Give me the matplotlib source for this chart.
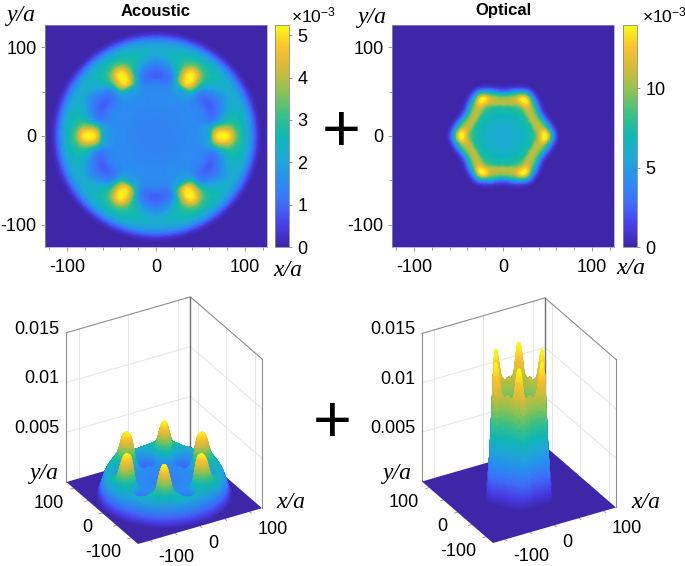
#!/usr/bin/env python3
import matplotlib

matplotlib.use('Agg')  # necessary when plotting without $DISPLAY
import numpy as np
import matplotlib.pyplot as plt
from matplotlib.colors import LinearSegmentedColormap
from matplotlib.tri import Triangulation, UniformTriRefiner
from mpl_toolkits.mplot3d import proj3d
from mpl_toolkits.mplot3d.art3d import Poly3DCollection

W, H = 685, 566

# values, in units of 1e-3, along rays from the centre.
# the pattern repeats every 60 degrees and is mirrored, so rays 0-30 deg are enough
acoustic_r = [0, 5, 10, 15, 20, 25, 30, 35, 40, 45, 50, 55, 60, 65, 70, 75, 80, 85, 90, 95, 100, 105, 110, 115, 120]
acoustic_00 = [1.4, 1.4, 1.4, 1.4, 1.4, 1.45, 1.45, 1.5, 1.5, 1.55, 1.7, 1.85, 2.4, 4.3, 5.1, 5.24, 5.15, 4.6, 3.6, 2.9, 2.45, 1.95, 1.15, 0.35, 0.0]
acoustic_05 = [1.4, 1.4, 1.4, 1.4, 1.4, 1.45, 1.45, 1.5, 1.5, 1.55, 1.7, 1.85, 2.25, 3.7, 4.5, 4.7, 4.5, 4.0, 3.2, 2.8, 2.45, 1.95, 1.15, 0.35, 0.0]
acoustic_10 = [1.4, 1.4, 1.4, 1.4, 1.4, 1.45, 1.45, 1.5, 1.5, 1.55, 1.65, 1.8, 2.0, 2.5, 2.9, 3.1, 3.1, 3.0, 2.85, 2.65, 2.4, 1.95, 1.15, 0.35, 0.0]
acoustic_15 = [1.4, 1.4, 1.4, 1.4, 1.4, 1.45, 1.45, 1.5, 1.5, 1.5, 1.55, 1.55, 1.5, 1.4, 1.5, 1.85, 2.3, 2.55, 2.65, 2.55, 2.3, 1.9, 1.15, 0.35, 0.0]
acoustic_20 = [1.4, 1.4, 1.4, 1.4, 1.4, 1.45, 1.45, 1.5, 1.5, 1.5, 1.5, 1.45, 1.3, 1.1, 1.1, 1.35, 1.7, 2.1, 2.35, 2.4, 2.25, 1.85, 1.1, 0.35, 0.0]
acoustic_25 = [1.4, 1.4, 1.4, 1.4, 1.4, 1.45, 1.45, 1.5, 1.5, 1.5, 1.5, 1.45, 1.25, 1.0, 0.95, 1.15, 1.45, 1.8, 2.1, 2.3, 2.2, 1.8, 1.1, 0.35, 0.0]
acoustic_30 = [1.4, 1.4, 1.4, 1.4, 1.4, 1.45, 1.45, 1.5, 1.5, 1.5, 1.5, 1.45, 1.3, 0.95, 0.9, 1.05, 1.3, 1.6, 1.95, 2.2, 2.15, 1.8, 1.1, 0.35, 0.0]

optical_r = [0, 6, 12, 18, 24, 30, 33, 36, 39, 42, 45, 48, 51, 54, 57, 60, 63, 66, 69]
optical_00 = [5.8, 5.85, 6.0, 6.3, 6.7, 7.3, 7.8, 8.5, 10.2, 12.4, 13.8, 14.0, 12.2, 8.2, 4.6, 1.9, 0.5, 0.0, 0.0]
optical_05 = [5.8, 5.85, 6.0, 6.3, 6.7, 7.3, 7.7, 8.7, 10.4, 12.2, 13.3, 13.3, 10.8, 7.2, 3.7, 1.4, 0.3, 0.0, 0.0]
optical_10 = [5.8, 5.85, 6.0, 6.3, 6.7, 7.3, 7.6, 9.2, 10.6, 11.5, 11.8, 10.6, 7.9, 4.9, 2.3, 0.7, 0.1, 0.0, 0.0]
optical_15 = [5.8, 5.85, 6.0, 6.3, 6.7, 7.2, 7.6, 9.8, 10.7, 11.0, 10.2, 8.6, 6.0, 3.4, 1.3, 0.3, 0.0, 0.0, 0.0]
optical_20 = [5.8, 5.85, 6.0, 6.3, 6.7, 7.2, 7.7, 10.0, 10.6, 10.7, 9.5, 7.5, 4.5, 2.0, 0.6, 0.1, 0.0, 0.0, 0.0]
optical_25 = [5.8, 5.85, 6.0, 6.3, 6.7, 7.3, 8.0, 10.3, 10.8, 10.4, 8.7, 6.2, 3.2, 1.2, 0.3, 0.0, 0.0, 0.0, 0.0]
optical_30 = [5.8, 5.85, 6.0, 6.3, 6.8, 7.3, 8.5, 10.5, 10.9, 10.2, 8.5, 5.5, 2.8, 1.0, 0.2, 0.0, 0.0, 0.0, 0.0]

acoustic_max = 5.24
optical_max = 14.0
acoustic_cbar_ticks = [0, 1, 2, 3, 4, 5]
optical_cbar_ticks = [0, 5, 10]
map_ticks = [-100, 0, 100]
map_minor_x = [-120, -80, -60, -40, -20, 20, 40, 60, 80, 120]
map_minor_y = [-50, 50]
z_ticks = [0.005, 0.01]
z_labels = ['0.005', '0.01', '0.015']
extent = 125
z_top = 0.015

parula = LinearSegmentedColormap.from_list('parula', [
    '#3e26a8', '#4840ea', '#3f6ffb', '#2a8ff0', '#1fa8d8', '#0fb9b5',
    '#3dc184', '#8bc356', '#d1bb3a', '#fdc02f', '#f9fb15'], N=256)
bg = parula(0.0)
edge = '#8c8c8c'
grid = '#e6e6e6'
sans = 'Liberation Sans'
serif = 'Liberation Serif'
tick_size = 13

plt.rcParams['font.family'] = sans
plt.rcParams['mathtext.fontset'] = 'custom'
plt.rcParams['mathtext.rm'] = sans
plt.rcParams['mathtext.it'] = sans + ':italic'

fig = plt.figure(figsize=(W / 100, H / 100), dpi=100)


def px_axes(left, top, right, bottom, **kw):
    return fig.add_axes([left / W, 1 - bottom / H, (right - left) / W, (bottom - top) / H], **kw)


def px_text(x, y, s, **kw):
    kw.setdefault('ha', 'center')
    kw.setdefault('va', 'center')
    return fig.text(x / W, 1 - y / H, s, **kw)


def polar_field(radii, rays):
    # unfold the 0-30 deg rays over the circle and let the library smooth the mesh for drawing
    rays = np.array(rays) * 1e-3
    radii = np.array(radii, dtype=float)
    steps = np.arange(72)
    folded = np.minimum(steps % 12, 12 - steps % 12)
    theta = np.deg2rad(steps * 5.0)
    x = np.concatenate([[0.0], np.outer(np.cos(theta), radii[1:]).ravel()])
    y = np.concatenate([[0.0], np.outer(np.sin(theta), radii[1:]).ravel()])
    z = np.concatenate([[rays[0, 0]], rays[folded][:, 1:].ravel()])

    n_ring = len(radii) - 1
    triangles = []
    for i in range(72):
        nxt = (i + 1) % 72
        triangles.append([0, 1 + i * n_ring, 1 + nxt * n_ring])
        for j in range(n_ring - 1):
            a = 1 + i * n_ring + j
            b = 1 + nxt * n_ring + j
            triangles.append([a, a + 1, b + 1])
            triangles.append([a, b + 1, b])
    tri = Triangulation(x, y, np.array(triangles))
    fine_tri, fine_z = UniformTriRefiner(tri).refine_field(z, subdiv=2)
    return fine_tri, np.clip(fine_z, 0, None)


def draw_map(box, cbar_box, tri, z, vmax, cbar_ticks, title):
    ax = px_axes(*box)
    ax.set_facecolor(bg)
    mesh = ax.tripcolor(tri, z, shading='gouraud', cmap=parula, vmin=0, vmax=vmax * 1e-3)
    ax.set_xlim(-extent, extent)
    ax.set_ylim(-extent, extent)
    ax.set_xticks(map_ticks)
    ax.set_yticks(map_ticks)
    ax.set_xticks(map_minor_x, minor=True)
    ax.set_yticks(map_minor_y, minor=True)
    ax.tick_params(which='major', direction='out', length=3, width=0.6, color=edge, labelsize=tick_size, pad=6)
    ax.tick_params(which='minor', direction='out', length=2, width=0.6, color=edge)
    ax.tick_params(axis='y', which='major', pad=3)
    ax.set_xticklabels(['-100', '0', '100'])
    ax.set_yticklabels(['-100', '0', '100'])
    for side in ax.spines.values():
        side.set_color('#9a94c8')
        side.set_linewidth(0.5)

    cax = px_axes(*cbar_box)
    cbar = fig.colorbar(mesh, cax=cax)
    cbar.set_ticks([t * 1e-3 for t in cbar_ticks])
    cbar.set_ticklabels([str(t) for t in cbar_ticks])
    cbar.ax.tick_params(length=2, width=0.6, color=edge, labelsize=tick_size, pad=4)
    cbar.outline.set_edgecolor(edge)
    cbar.outline.set_linewidth(0.6)

    px_text((box[0] + box[2]) / 2, 11, title, fontsize=12, fontweight='bold')


def to_display(ax, x, y, z):
    ax.apply_aspect()
    px, py, _ = proj3d.proj_transform(x, y, z, ax.get_proj())
    return ax.transData.transform((px, py))


def place_3d(ax, bottom_px, right_px):
    # move the 3d axes so the floor corners land on the wanted pixels
    size = 400.0
    ax.set_position([0.1, 0.1, size / W, size / H])
    a = to_display(ax, -extent, -extent, 0)
    b = to_display(ax, extent, -extent, 0)
    size *= (right_px[0] - bottom_px[0]) / (b[0] - a[0])
    ax.set_position([0.1, 0.1, size / W, size / H])
    a = to_display(ax, -extent, -extent, 0)
    left = 0.1 * W + bottom_px[0] - a[0]
    low = 0.1 * H + (H - bottom_px[1]) - a[1]
    ax.set_position([left / W, low / H, size / W, size / H])


def label_3d(ax, x, y, z, s, **kw):
    dx, dy = to_display(ax, x, y, z)
    fig.text(dx / W, dy / H, s, fontsize=tick_size, va='center', **kw)


def draw_surface(bottom_px, right_px, tri, z, vmax):
    ax = fig.add_axes([0.1, 0.1, 0.5, 0.5], projection='3d', computed_zorder=False, proj_type='ortho')
    ax.set_box_aspect((1, 1, 1.204))
    ax.view_init(elev=30, azim=-120)
    ax.set_xlim(-extent, extent, view_margin=0)
    ax.set_ylim(-extent, extent, view_margin=0)
    ax.set_zlim(0, z_top, view_margin=0)
    ax.set_axis_off()
    ax.patch.set_alpha(0)

    # walls
    for t in map_ticks:
        ax.plot([t, t], [extent, extent], [0, z_top], color=grid, lw=0.7, zorder=1)
        ax.plot([extent, extent], [t, t], [0, z_top], color=grid, lw=0.7, zorder=1)
    for t in z_ticks:
        ax.plot([-extent, extent, extent], [extent, extent, -extent], [t, t, t], color=grid, lw=0.7, zorder=1)
    ax.plot([-extent, extent, extent], [extent, extent, -extent], [z_top] * 3, color=edge, lw=0.8, zorder=1)
    ax.plot([-extent, -extent], [extent, extent], [0, z_top], color=edge, lw=0.8, zorder=1)
    ax.plot([extent, extent], [-extent, -extent], [0, z_top], color=edge, lw=0.8, zorder=1)
    ax.plot([extent, extent], [extent, extent], [0, z_top], color='#707070', lw=1.0, zorder=1)

    # floor and surface
    fx, fy = np.meshgrid([-extent, extent], [-extent, extent])
    ax.plot_surface(fx, fy, np.zeros_like(fx, dtype=float), color=bg, shade=False, linewidth=0, zorder=2)
    t = tri.get_masked_triangles()
    verts = np.stack([tri.x[t], tri.y[t], z[t]], axis=-1)
    colors = parula(z[t].mean(axis=1) / (vmax * 1e-3))
    surf = Poly3DCollection(verts, facecolors=colors, edgecolors=colors, linewidths=0.25, zorder=3)
    ax.add_collection3d(surf)

    # floor ticks
    for v in [-100, -50, 0, 50, 100]:
        ax.plot([v, v], [-extent, -extent - 6], [0, 0], color=edge, lw=0.6, zorder=1)
        ax.plot([-extent, -extent - 6], [v, v], [0, 0], color=edge, lw=0.6, zorder=1)

    place_3d(ax, bottom_px, right_px)
    for v, lab in zip(z_ticks + [z_top], z_labels):
        label_3d(ax, -extent - 14, extent, v + 0.00055, lab, ha='right')
    for v in map_ticks:
        label_3d(ax, v, -extent - 28, -0.00106, str(v), ha='left')
        label_3d(ax, -extent - 20, v, -0.0012, str(v), ha='right')
    return ax


ac_tri, ac_z = polar_field(acoustic_r, [acoustic_00, acoustic_05, acoustic_10, acoustic_15, acoustic_20, acoustic_25, acoustic_30])
op_tri, op_z = polar_field(optical_r, [optical_00, optical_05, optical_10, optical_15, optical_20, optical_25, optical_30])

draw_map((45, 25, 267, 247), (275, 25, 289, 247), ac_tri, ac_z, acoustic_max, acoustic_cbar_ticks, 'Acoustic')
draw_map((392, 25, 614, 247), (623, 25, 637, 247), op_tri, op_z, optical_max, optical_cbar_ticks, 'Optical')

draw_surface((138, 544), (262, 509), ac_tri, ac_z, acoustic_max)
draw_surface((493, 543), (616, 507), op_tri, op_z, optical_max)

label = dict(family=serif, style='italic', fontsize=17)
px_text(21, 16, 'y/a', **label)
px_text(288, 270, 'x/a', **label)
px_text(372, 17, 'y/a', **label)
px_text(631, 268, 'x/a', **label)
px_text(44, 474, 'y/a', **label)
px_text(291, 503, 'x/a', **label)
px_text(397, 474, 'y/a', **label)
px_text(646, 503, 'x/a', **label)

px_text(313, 15, r'$\times 10^{-3}$', fontsize=12.5)
px_text(664, 15, r'$\times 10^{-3}$', fontsize=12.5)

px_text(341, 134, '+', fontsize=48, family=sans, color='black')
px_text(332, 425, '+', fontsize=48, family=sans, color='black')

fig.savefig('out.png', dpi=100)
plt.close()
